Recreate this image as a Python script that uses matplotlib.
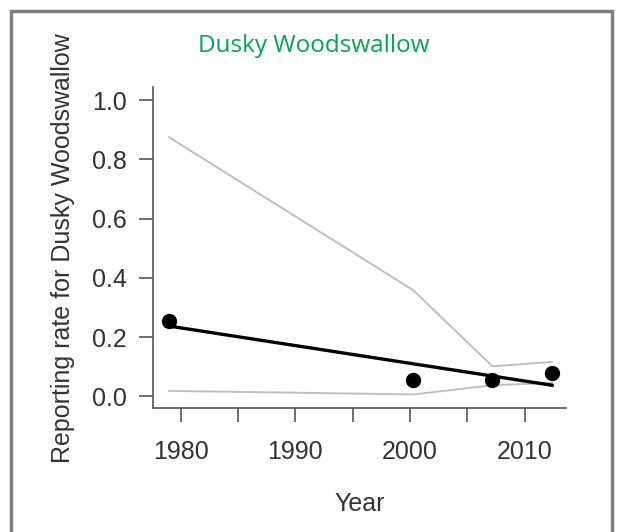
import numpy as np
import matplotlib
matplotlib.use("Agg")
import matplotlib.pyplot as plt
from matplotlib.patches import Rectangle

# survey periods (mid year) and observed reporting rates
years = [1979.0, 2000.3, 2007.2, 2012.4]
rate = [0.254, 0.054, 0.056, 0.077]

# fitted trend and confidence band
fit_years = [1979.0, 2012.4]
fit_rate = [0.237, 0.037]
upper = [0.875, 0.358, 0.101, 0.116]
lower = [0.018, 0.006, 0.037, 0.045]

xticks = [1980, 1985, 1990, 1995, 2000, 2005, 2010]
xlabels = ["1980", "", "1990", "", "2000", "", "2010"]
yticks = [0.0, 0.2, 0.4, 0.6, 0.8, 1.0]

plt.rcParams['font.family'] = ['Liberation Sans', 'DejaVu Sans']

f = plt.figure(figsize=(6.17, 5.32), dpi=100)
ax = f.add_axes([0.248, 0.233, 0.669, 0.603])

ax.plot(years, upper, color="#bfbfbf", lw=1.4)
ax.plot(years, lower, color="#bfbfbf", lw=1.4)
ax.plot(fit_years, fit_rate, color="black", lw=2.4)
ax.plot(years, rate, "o", color="black", ms=10)

ax.set_xlim(1977.6, 2013.6)
ax.set_ylim(-0.04, 1.044)
ax.set_xticks(xticks)
ax.set_xticklabels(xlabels)
ax.set_yticks(yticks)
ax.set_yticklabels(["%.1f" % v for v in yticks])

for s in ["top", "right"]:
    ax.spines[s].set_visible(False)
for s in ["left", "bottom"]:
    ax.spines[s].set_color("#555555")
    ax.spines[s].set_linewidth(1.2)
ax.tick_params(direction="out", length=10, width=1.2, color="#555555",
               labelsize=18, labelcolor="#333333", pad=9)
ax.tick_params(axis="x", pad=13)

ax.set_xlabel("Year", fontsize=18, color="#333333", labelpad=20)
ax.set_ylabel("Reporting rate for Dusky Woodswallow", fontsize=18,
              color="#333333", labelpad=12)

f.text(0.509, 0.913, "Dusky Woodswallow", color="#00a651", fontsize=17.5,
       family="Open Sans", ha="center", va="center")

# grey frame around the panel
f.patches.append(Rectangle((11 / 617, -0.05), 601 / 617, 1.05 - 11 / 532,
                           transform=f.transFigure, fill=False,
                           edgecolor="#808080", lw=2.5))

f.savefig("out.png", dpi=100)
